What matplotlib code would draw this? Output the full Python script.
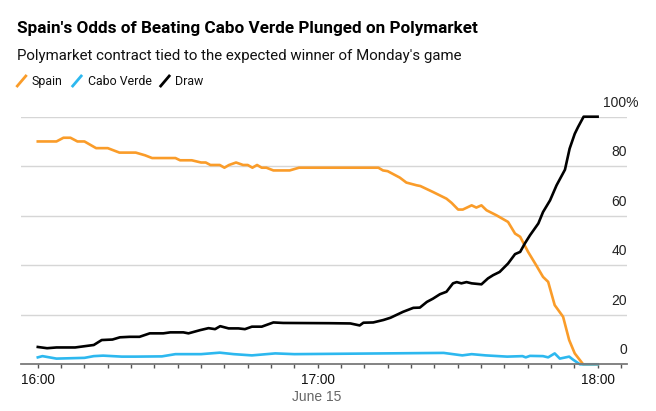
import pandas as pd
import matplotlib
matplotlib.use("Agg")
import matplotlib.pyplot as plt
import matplotlib.dates as mdates
from matplotlib.lines import Line2D

# minutes after 16:00 on June 15, with the contract price in percent
spain_min = [0, 4, 5.5, 7, 8.5, 10, 12.5, 15, 17.5, 21, 23, 24.5, 29.5, 30.5, 33, 35, 36, 37, 39, 40,
             41, 42.5, 44, 45, 46, 47, 48, 49, 50.5, 54, 56, 73, 74, 75, 77.6, 79, 81.2, 82, 84.7, 87.6,
             88.7, 90.1, 91.1, 93, 94, 95.1, 96.2, 98.3, 100.8, 102.3, 103.4, 105.1, 106.9, 108.3, 109.4,
             110.8, 112.6, 113.9, 115.1, 116.9, 120]
spain = [90, 90, 91.5, 91.5, 90, 90, 87.3, 87.3, 85.5, 85.5, 84.4, 83.3, 83.3, 82.4, 82.4, 81.5, 81.5,
         80.5, 80.5, 79.4, 80.5, 81.5, 80.5, 80.5, 79.4, 80.5, 79.4, 79.4, 78.3, 78.3, 79.4, 79.4, 78.3,
         78, 75.4, 73.4, 72.3, 72, 69.6, 66.9, 65.2, 62.5, 62.5, 64.2, 63.3, 64.2, 62.2, 60.2, 57.5, 52.8,
         51.5, 45.4, 39.8, 35.3, 33.3, 23.9, 19.2, 9.8, 4.4, 0, 0]

cabo_min = [0, 1, 4, 10, 12, 14, 18, 21, 26.6, 29.5, 35, 39, 42, 45.9, 50.9, 55, 87, 91, 93, 96,
            100.6, 103.9, 104.6, 105.5, 108.3, 109.4, 110.8, 111.9, 113.9, 114.8, 116.2, 120]
cabo = [2.8, 3.3, 2.3, 2.6, 3.3, 3.5, 3.1, 3.1, 3.2, 4.1, 4.1, 4.7, 4.1, 3.6, 4.4, 4.1, 4.6, 3.6, 4.1,
        3.6, 3.1, 3.3, 2.8, 3.4, 3.3, 2.8, 4.4, 2.3, 3.1, 1.8, 0, 0]

draw_min = [0, 2, 4, 8, 10, 12, 13.7, 16, 17.6, 19.7, 21.8, 24, 26.9, 28.4, 31.2, 32.3, 34.8, 36.6, 38,
            39.1, 40.9, 43, 44.4, 45.9, 48, 50.5, 52.6, 62.6, 67, 69, 69.8, 71.9, 74.1, 75.6, 78.3, 80.5,
            81.9, 83.4, 84.7, 86.2, 87.6, 89, 89.8, 90.8, 91.9, 93, 95.1, 96.5, 97.6, 99, 100.8, 102.3,
            103.4, 104.4, 105.5, 107.3, 108.3, 109.8, 111.2, 113, 114, 115.1, 115.8, 117, 120]
draw = [7, 6.5, 6.8, 6.8, 7.3, 7.8, 9.8, 10, 10.9, 11.1, 11.1, 12.5, 12.5, 12.9, 12.9, 12.5, 13.8, 14.6,
        14.2, 15.4, 14.5, 14.5, 14.2, 15.2, 15.2, 16.9, 16.7, 16.6, 16.5, 15.7, 16.8, 16.9, 17.9, 18.8,
        21.2, 22.8, 22.9, 25.2, 26.5, 28.3, 29.3, 32.7, 33.2, 32.7, 33.2, 32.7, 32.3, 34.7, 36, 37.3, 40.7,
        44.5, 45.4, 48.8, 52.1, 56.9, 61.5, 66.2, 72.3, 78.6, 87.1, 93.1, 95.8, 100, 100]

y_ticks = [0, 20, 40, 60, 80, 100]
y_labels = ["0", "20", "40", "60", "80", "100%"]
series_names = ["Spain", "Cabo Verde", "Draw"]
colors = ["#fa9c29", "#2db8ef", "#000000"]

START = pd.Timestamp("2026-06-15 16:00")
plt.rcParams["font.family"] = ["Liberation Sans", "DejaVu Sans"]
HEAD = ["Roboto", "Liberation Sans", "DejaVu Sans"]


def to_time(minutes):
    return START + pd.to_timedelta(minutes, unit="min")


def main():
    fig = plt.figure(figsize=(6.56, 4.11), dpi=100)
    W, H = 656, 411
    ax = fig.add_axes([21 / W, (H - 364.3) / H, (627 - 21) / W, (364.3 - 116.7) / H])

    for mins, vals, name, c in zip([spain_min, cabo_min, draw_min], [spain, cabo, draw],
                                   series_names, colors):
        ax.plot(to_time(mins), vals, color=c, lw=1.9, label=name, clip_on=False,
                solid_joinstyle="round", zorder=3)

    ax.set_xlim(to_time(-3.6), to_time(126.3))
    ax.set_ylim(0, 100)

    # grid and baseline
    ax.set_yticks(y_ticks)
    ax.tick_params(axis="y", left=False, labelleft=False)
    ax.grid(axis="y", color="#d6d6d6", lw=1)
    for s in ["top", "right", "left"]:
        ax.spines[s].set_visible(False)
    ax.spines["bottom"].set_color("#7a7a7a")
    ax.spines["bottom"].set_linewidth(1.3)
    ax.spines["bottom"].set_zorder(4)

    # y labels sit above the grid lines, at the right edge ("%" hangs past it)
    for v, lab in zip(y_ticks, y_labels):
        dx = 8.5 if lab.endswith("%") else 0
        ax.annotate(lab, xy=(1.0, v), xycoords=("axes fraction", "data"),
                    xytext=(dx, 5), textcoords="offset points", ha="right", va="bottom",
                    fontsize=10, color="#222222", annotation_clip=False)

    # time axis
    ax.xaxis.set_major_locator(mdates.HourLocator())
    ax.xaxis.set_major_formatter(mdates.DateFormatter("%H:%M"))
    ax.xaxis.set_minor_locator(mdates.MinuteLocator(byminute=range(0, 60, 5)))
    ax.tick_params(axis="x", which="both", length=3, width=1, color="#555555",
                   labelsize=9.8, labelcolor="#111111", pad=3)
    fig.text(317 / W, 1 - 397 / H, "June 15", ha="center", va="center",
             fontsize=10, color="#666666")

    # titles
    fig.text(17 / W, 1 - 33.3 / H, "Spain's Odds of Beating Cabo Verde Plunged on Polymarket",
             fontsize=12.3, fontweight="bold", va="baseline", ha="left", family=HEAD)
    fig.text(17 / W, 1 - 60 / H, "Polymarket contract tied to the expected winner of Monday's game",
             fontsize=10.8, va="baseline", ha="left", color="#111111", family=HEAD)

    # legend with slanted line markers
    marker_x = [17.3, 72.7, 160.7]
    text_x = [32, 87.7, 175]
    for mx, tx, name, c in zip(marker_x, text_x, series_names, colors):
        fig.add_artist(Line2D([mx / W, (mx + 8.5) / W], [1 - 86 / H, 1 - 76 / H],
                              color=c, lw=2, transform=fig.transFigure))
        fig.text(tx / W, 1 - 85 / H, name, fontsize=8.9, va="baseline", ha="left",
                 color="#111111", family=HEAD)

    fig.savefig("out.png", dpi=100)


main()
